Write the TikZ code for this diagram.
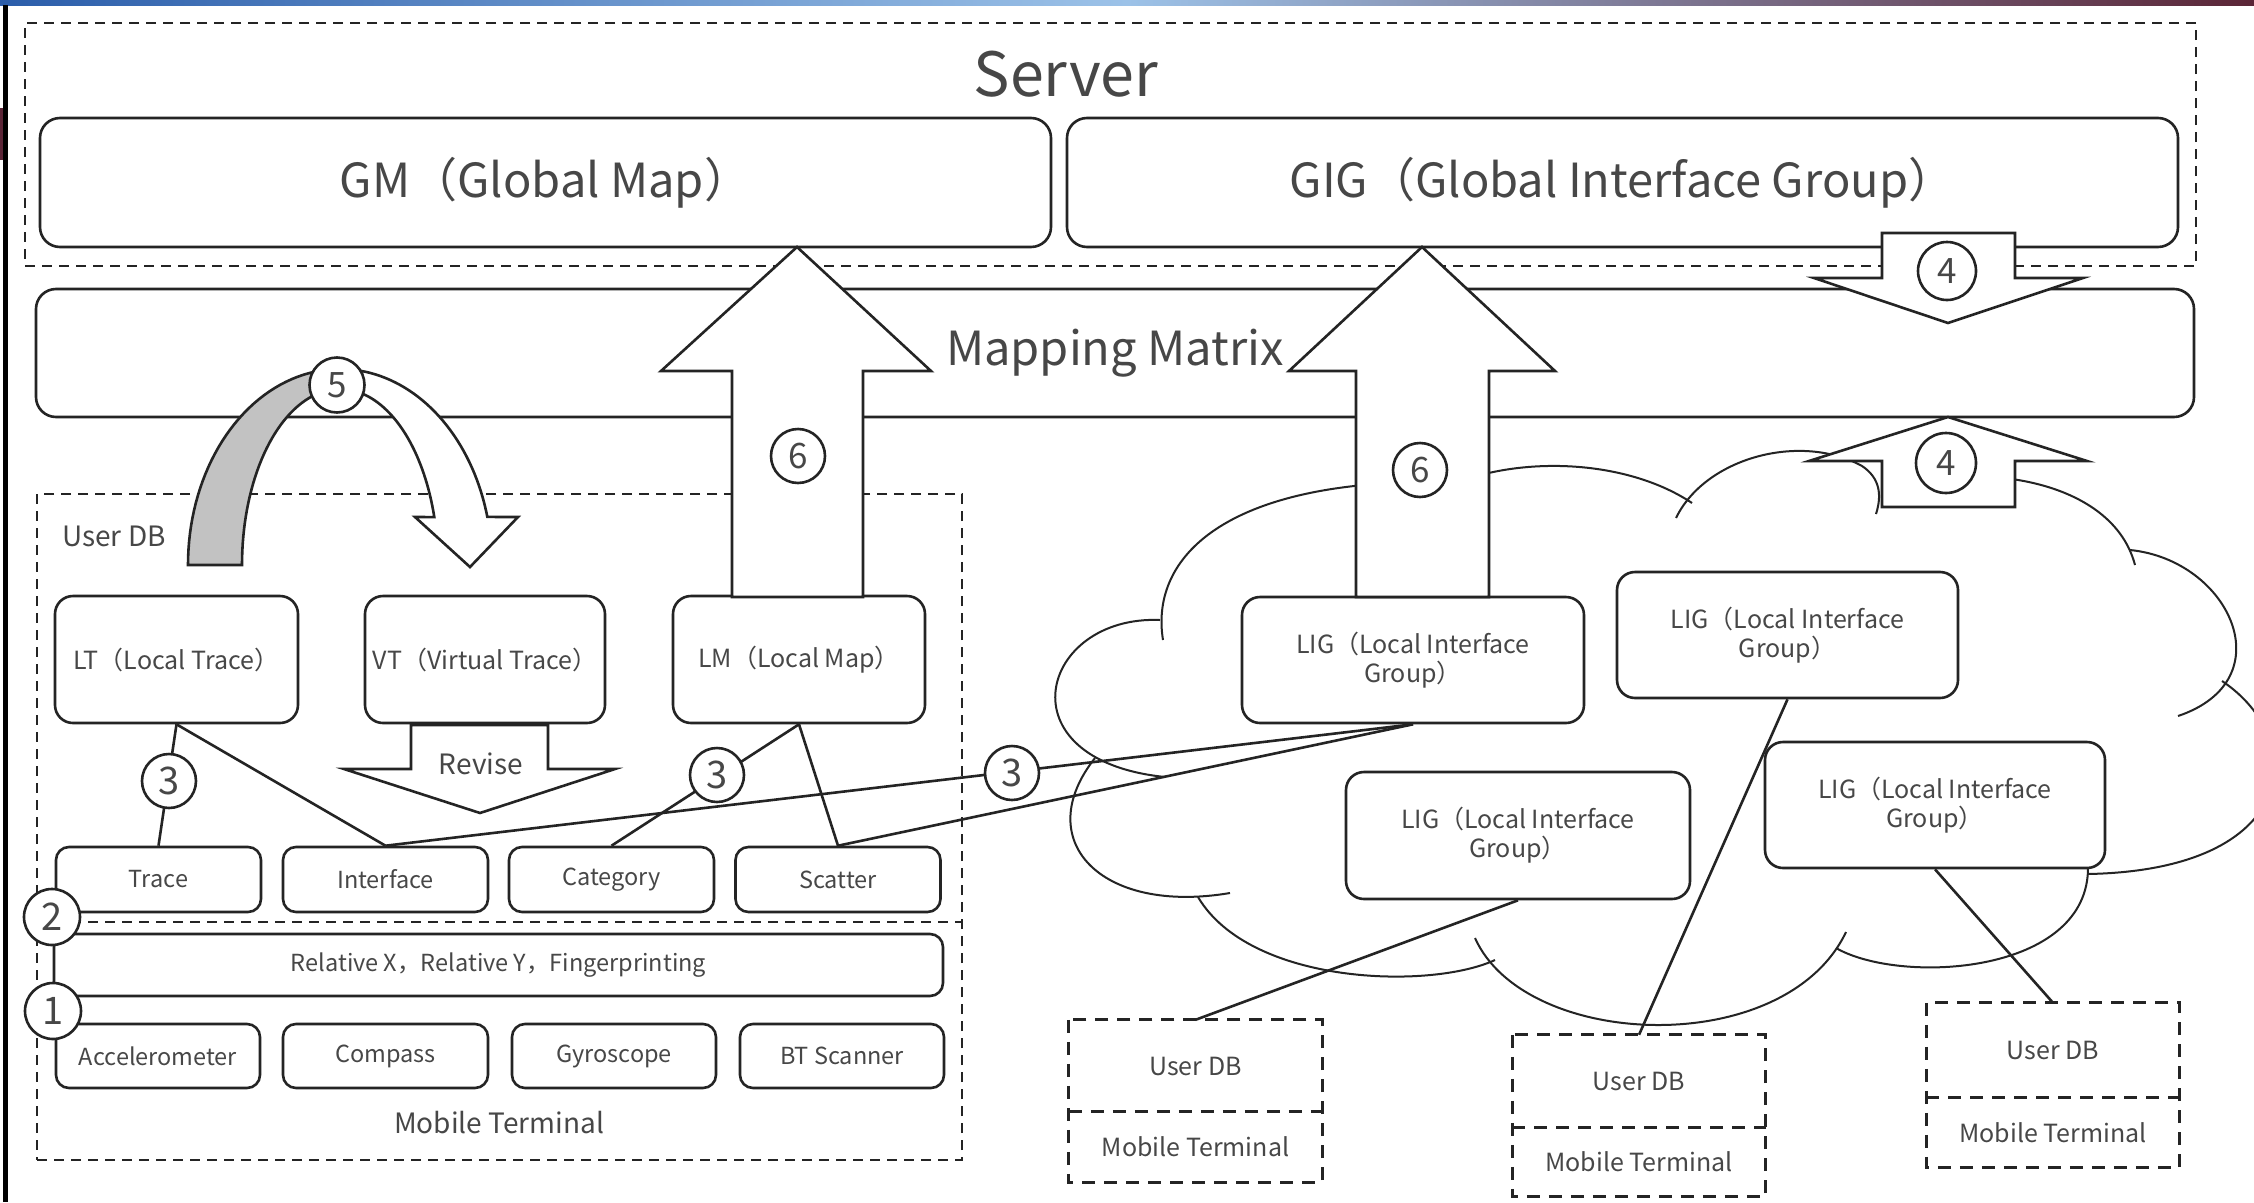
\documentclass[tikz,border=0pt]{standalone}
\usepackage{fontspec}
\setmainfont{Noto Sans CJK SC}
\definecolor{txt}{HTML}{474747}
\definecolor{ln}{HTML}{242424}
\definecolor{band}{HTML}{C2C2C2}
\definecolor{barA}{HTML}{2B5DAA}
\definecolor{barB}{HTML}{9CC2E8}
\definecolor{barC}{HTML}{5B2536}
\begin{document}
\begin{tikzpicture}[x=1pt,y=-1pt,
  ink/.style={draw=ln, line width=2.6pt},
  panel/.style={ink, fill=white, text=txt, inner sep=0pt, align=center},
  bigpanel/.style={panel, rounded corners=20pt, font=\fontsize{47}{52}\selectfont},
  midpanel/.style={panel, rounded corners=18pt, font=\fontsize{25}{29}\selectfont},
  cell/.style={panel, rounded corners=13pt, font=\fontsize{23.5}{28}\selectfont},
  dashbox/.style={draw=ln, line width=2.4pt, dash pattern=on 10pt off 7pt},
  smalldash/.style={draw=ln, line width=3.2pt, dash pattern=on 13pt off 9pt},
  label/.style={text=txt, inner sep=0pt},
  badge/.style={circle, ink, fill=white, text=txt, inner sep=0pt, font=\fontsize{38}{38}\selectfont},
  fatarrow/.style={ink, fill=white, line join=miter},
  cloudline/.style={draw=ln, line width=2pt},
  link/.style={draw=ln, line width=2.6pt}
]
\useasboundingbox (0,0) rectangle (2254,1202);
\fill[white] (0,0) rectangle (2254,1202);

% window edge
\shade[left color=barA, right color=barC, middle color=barB] (0,0) rectangle (2254,5);
\fill[barC] (0,108) rectangle (4,160);
\fill[black] (3,5) rectangle (8,1202);

% ---------- server ----------
\node[dashbox, minimum width=2171pt, minimum height=243pt, inner sep=0pt] (server) at (1110.5,144.5) {};
\node[label, font=\fontsize{61}{61}\selectfont] (servertitle) at (1066,74) {Server};
\node[bigpanel, minimum width=1011pt, minimum height=129pt] (gm) at (545.5,182.5) {GM（Global Map）};
\node[bigpanel, minimum width=1111pt, minimum height=129pt] (gig) at (1622.5,182.5) {GIG（Global Interface Group）};

\node[bigpanel, minimum width=2158pt, minimum height=128pt] (mm) at (1115,353) {Mapping Matrix};

% ---------- local user database / mobile terminal ----------
\node[dashbox, minimum width=925pt, minimum height=666pt, inner sep=0pt] (userdb) at (499.5,827) {};
\draw[dashbox] (37,922) -- (962,922);
\node[label, anchor=west, font=\fontsize{28}{28}\selectfont] (udblabel) at (62,536) {User DB};
\node[label, font=\fontsize{28}{28}\selectfont] (mtlabel) at (499,1123) {Mobile Terminal};

\node[midpanel, minimum width=243pt, minimum height=127pt] (lt) at (176.5,659.5) {LT（Local Trace）};
\node[midpanel, minimum width=240pt, minimum height=127pt] (vt) at (485,659.5) {VT（Virtual Trace）};
\node[midpanel, minimum width=252pt, minimum height=127pt] (lm) at (799,659.5) {LM（Local Map）};

\node[cell, minimum width=205pt, minimum height=65pt] (trace) at (158.5,879.5) {Trace};
\node[cell, minimum width=205pt, minimum height=65pt] (iface) at (385.5,879.5) {Interface};
\node[cell, minimum width=205pt, minimum height=65pt] (cat) at (611.5,879.5) {Category};
\node[cell, minimum width=205pt, minimum height=65pt] (scat) at (838,879.5) {Scatter};

\node[cell, minimum width=889pt, minimum height=62pt] (rel) at (498.5,965) {Relative X，Relative Y，Fingerprinting};

\node[cell, minimum width=204pt, minimum height=64pt] (acc) at (158,1056) {Accelerometer};
\node[cell, minimum width=205pt, minimum height=64pt] (comp) at (385.5,1056) {Compass};
\node[cell, minimum width=204pt, minimum height=64pt] (gyro) at (614,1056) {Gyroscope};
\node[cell, minimum width=204pt, minimum height=64pt] (bts) at (842,1056) {BT Scanner};

% ---------- cloud ----------
\draw[cloudline] (1163,640) .. controls (1150,560) and (1220,485) .. (1420,482);
\draw[cloudline] (1430,495) .. controls (1500,455) and (1620,455) .. (1692,503);
\draw[cloudline] (1676,518) .. controls (1705,458) and (1800,432) .. (1862,466)
                 .. controls (1880,478) and (1882,495) .. (1876,514);
\draw[cloudline] (1885,495) .. controls (1950,460) and (2110,470) .. (2135,565);
\draw[cloudline] (2130,550) .. controls (2230,560) and (2285,680) .. (2178,716);
\draw[cloudline] (2222,681) .. controls (2310,740) and (2300,870) .. (2088,874);
\draw[cloudline] (1836,948) .. controls (1900,985) and (2090,975) .. (2088,866);
\draw[cloudline] (1475,938) .. controls (1525,1050) and (1785,1060) .. (1846,932);
\draw[cloudline] (1198,897) .. controls (1250,985) and (1430,990) .. (1495,960);
\draw[cloudline] (1095,758) .. controls (1030,840) and (1100,915) .. (1230,893);
\draw[cloudline] (1160,620) .. controls (1040,615) and (1000,760) .. (1165,777);

\node[midpanel, minimum width=342pt, minimum height=126pt] (lig1) at (1413,660) {LIG（Local Interface\\Group）};
\node[midpanel, minimum width=341pt, minimum height=126pt] (lig2) at (1787.5,635) {LIG（Local Interface\\Group）};
\node[midpanel, minimum width=344pt, minimum height=127pt] (lig3) at (1518,835.5) {LIG（Local Interface\\Group）};
\node[midpanel, minimum width=340pt, minimum height=126pt] (lig4) at (1935,805) {LIG（Local Interface\\Group）};

% ---------- remote terminals ----------
\begin{scope}[every node/.style={label, font=\fontsize{25}{25}\selectfont, minimum width=253pt}]
\node[minimum height=92pt] (udbA) at (1195.5,1066) {User DB};
\node[minimum height=70pt] (mtA) at (1195.5,1147) {Mobile Terminal};
\node[minimum height=93pt] (udbB) at (1639,1081.5) {User DB};
\node[minimum height=68pt] (mtB) at (1639,1162) {Mobile Terminal};
\node[minimum height=95pt] (udbC) at (2053,1050.5) {User DB};
\node[minimum height=69pt] (mtC) at (2053,1132.5) {Mobile Terminal};
\end{scope}
\foreach \u/\m in {udbA/mtA, udbB/mtB, udbC/mtC}{
  \draw[smalldash] (\u.north west) rectangle (\m.south east);
  \draw[smalldash] (\m.north west) -- (\m.north east);
}

% ---------- links ----------
\draw[link] (lt.south) -- (trace.north);
\draw[link] (lt.south) -- (iface.north);
\draw[link] (lm.south) -- (cat.north);
\draw[link] (lm.south) -- (scat.north);
\draw[link] (lig1.south) -- (iface.north);
\draw[link] (lig1.south) -- (scat.north);
\draw[link] (lig3.south) -- (udbA.north);
\draw[link] (lig2.south) -- (udbB.north);
\draw[link] (lig4.south) -- (udbC.north);

% ---------- block arrows ----------
\draw[fatarrow] (732,597) -- (732,371) -- (661,371) -- (797,247) -- (931,371) -- (863,371) -- (863,597) -- cycle;
\draw[fatarrow] (1356,597) -- (1356,371) -- (1289,371) -- (1422,247) -- (1555,371) -- (1489,371) -- (1489,597) -- cycle;
\draw[fatarrow] (1882,233) -- (2015,233) -- (2015,278) -- (2083,278) -- (1948,323) -- (1814,278) -- (1882,278) -- cycle;
\draw[fatarrow] (1882,507) -- (1882,461) -- (1809,461) -- (1948,417) -- (2087,461) -- (2015,461) -- (2015,507) -- cycle;
\draw[fatarrow] (411,725) -- (411,769) -- (344,769) -- (480,813) -- (615,769) -- (548,769) -- (548,725) -- cycle;
\node[label, font=\fontsize{28}{28}\selectfont] (revise) at (481,764) {Revise};

% curved arrow: grey rising half, white falling half with head
\draw[ink, fill=band, line join=miter]
  plot[domain=180:90, samples=40] ({340+152*cos(\x)},{565-196*sin(\x)})
  -- plot[domain=90:180, samples=40] ({340+98*cos(\x)},{565-176*sin(\x)}) -- cycle;
\draw[fatarrow]
  plot[domain=90:14.2, samples=40] ({340+152*cos(\x)},{565-196*sin(\x)})
  -- (518,517) -- (470,567) -- (415,517)
  -- plot[domain=15.8:90, samples=40] ({340+98*cos(\x)},{565-176*sin(\x)}) -- cycle;

% ---------- numbered badges ----------
\node[badge, minimum size=56pt] (b1) at (53,1011) {1};
\node[badge, minimum size=56pt] (b2) at (52,917) {2};
\node[badge, minimum size=54pt] (b3a) at (169,781) {3};
\node[badge, minimum size=54pt] (b3b) at (717,775) {3};
\node[badge, minimum size=54pt] (b3c) at (1012,773) {3};
\node[badge, minimum size=58pt, font=\fontsize{35}{35}\selectfont] (b4a) at (1947,271) {4};
\node[badge, minimum size=60pt, font=\fontsize{35}{35}\selectfont] (b4b) at (1946,463) {4};
\node[badge, minimum size=55pt, font=\fontsize{35}{35}\selectfont] (b5) at (337,385) {5};
\node[badge, minimum size=54pt, font=\fontsize{35}{35}\selectfont] (b6a) at (798,456) {6};
\node[badge, minimum size=54pt, font=\fontsize{35}{35}\selectfont] (b6b) at (1420,470) {6};
\end{tikzpicture}
\end{document}
